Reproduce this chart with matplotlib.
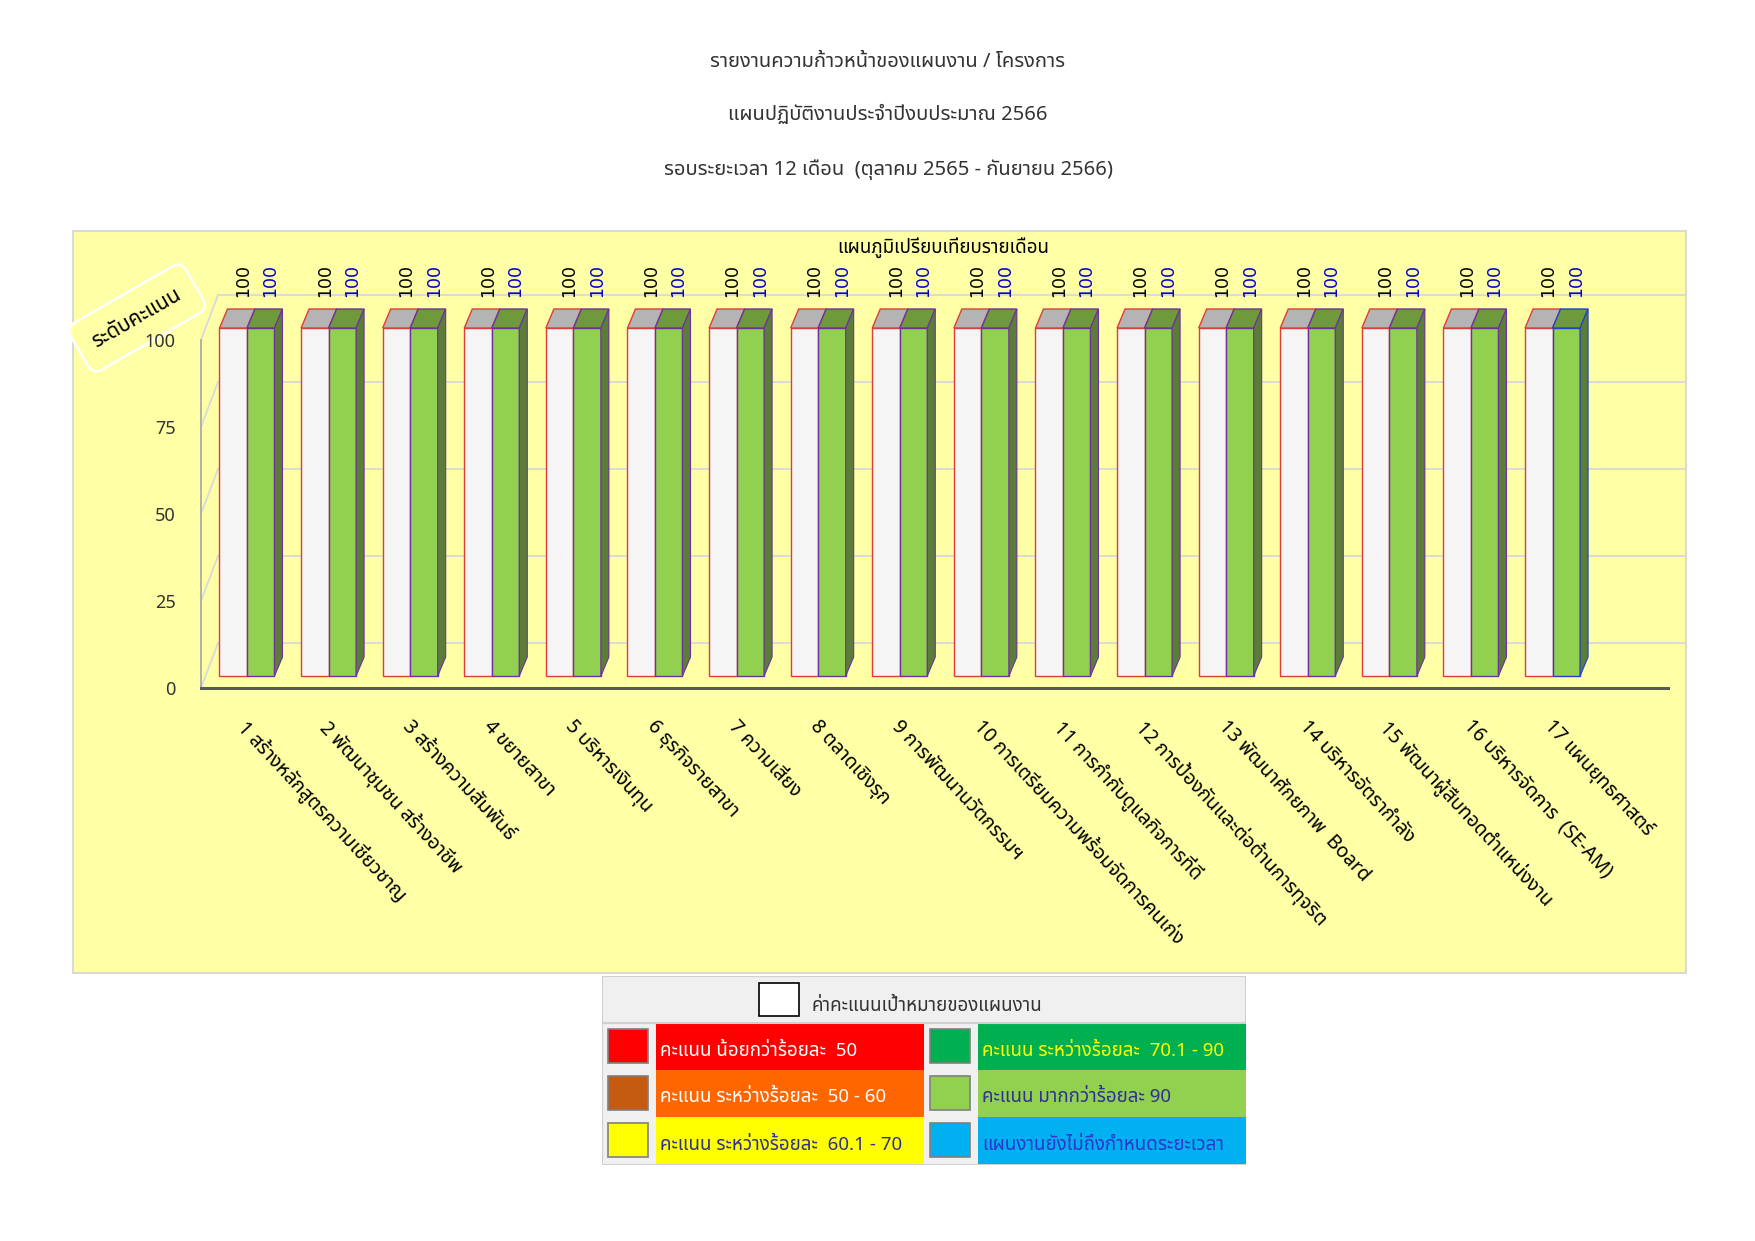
import numpy as np
import matplotlib
matplotlib.use("Agg")
import matplotlib.pyplot as plt
from matplotlib import font_manager
from matplotlib.ft2font import FT2Font
from matplotlib.patches import Polygon, Rectangle

# ---- data ----
categories = ["1 สร้างหลักสูตรความเชี่ยวชาญ", "2 พัฒนาชุมชน สร้างอาชีพ", "3 สร้างความสัมพันธ์",
              "4 ขยายสาขา", "5 บริหารเงินทุน", "6 ธุรกิจรายสาขา", "7 ความเสี่ยง", "8 ตลาดเชิงรุก",
              "9 การพัฒนานวัตกรรมฯ", "10 การเตรียมความพร้อมจัดการคนเก่ง", "11 การกำกับดูแลกิจการที่ดี",
              "12 การป้องกันและต่อต้านการทุจริต", "13 พัฒนาศักยภาพ  Board", "14 บริหารอัตรากำลัง",
              "15 พัฒนาผู้สืบทอดตำแหน่งงาน", "16 บริหารจัดการ  (SE-AM)", "17 แผนยุทธศาสตร์"]
target = [100] * 17
actual = [100] * 17
yticks = [0, 25, 50, 75, 100]

titles = ["รายงานความก้าวหน้าของแผนงาน / โครงการ",
          "แผนปฏิบัติงานประจำปีงบประมาณ 2566",
          "รอบระยะเวลา 12 เดือน  (ตุลาคม 2565 - กันยายน 2566)"]
chart_title = "แผนภูมิเปรียบเทียบรายเดือน"
y_title = "ระดับคะแนน"

legend_header = "ค่าคะแนนเป้าหมายของแผนงาน"
legend_left = [("คะแนน น้อยกว่าร้อยละ  50", "#FF0000", "#FF0000", "white"),
               ("คะแนน ระหว่างร้อยละ  50 - 60", "#C55A11", "#FF6600", "white"),
               ("คะแนน ระหว่างร้อยละ  60.1 - 70", "#FFFF00", "#FFFF00", "#2E3192")]
legend_right = [("คะแนน ระหว่างร้อยละ  70.1 - 90", "#00B050", "#00B050", "#FFFF00"),
                ("คะแนน มากกว่าร้อยละ 90", "#92D050", "#92D050", "#2E3192"),
                ("แผนงานยังไม่ถึงกำหนดระยะเวลา", "#00B0F0", "#00B0F0", "#3333CC")]


def find_thai_font():
    names = []
    for f in font_manager.fontManager.ttflist:
        try:
            if 0x0E01 in FT2Font(f.fname).get_charmap():
                names.append(f.name)
        except Exception:
            pass
    for pref in ["Noto Sans Thai", "Tahoma", "Leelawadee", "Loma", "Garuda", "Sarabun"]:
        if pref in names:
            return pref
    return names[0] if names else "DejaVu Sans"


thai = find_thai_font()
plt.rcParams['font.family'] = [thai, 'DejaVu Sans']

W, H = 1755, 1241
fig = plt.figure(figsize=(W / 100, H / 100), dpi=100)
fig.patch.set_facecolor("white")


def fx(px):
    return px / W


def fy(py):
    return 1 - py / H


for t, py in zip(titles, [62, 115, 170]):
    fig.text(fx(888), fy(py), t, ha="center", va="center", fontsize=14.5, color="#333333")

# chart area (behind the axes)
bg = fig.add_axes([0, 0, 1, 1], zorder=-1)
bg.axis("off")
bg.add_patch(Rectangle((fx(73), fy(973)), fx(1686) - fx(73), fy(231) - fy(973),
                       transform=fig.transFigure, facecolor="#FFFFA6", edgecolor="#D9D9D9", lw=1.5))
fig.text(fx(943), fy(248), chart_title, ha="center", va="center", fontsize=13.5,
         fontweight="bold", color="black")

# y axis title in a rotated rounded box (clipped by the chart area)
yt = bg.text(fx(137), fy(318), y_title, rotation=30, ha="center", va="center", fontsize=15,
             transform=fig.transFigure,
             bbox=dict(boxstyle="round,pad=0.8,rounding_size=0.5", facecolor="#FFFFA6",
                       edgecolor="white", lw=1.8))
clip = Rectangle((fx(73), fy(973)), fx(1686) - fx(73), fy(231) - fy(973),
                 transform=fig.transFigure, facecolor="none", edgecolor="none")
bg.add_patch(clip)
yt.set_clip_path(clip)
yt.get_bbox_patch().set_clip_path(clip)

ax = fig.add_axes([fx(180), fy(700), fx(1685) - fx(180), fy(232) - fy(700)])
ax.set_facecolor("none")
ax.set_xlim(-0.821, 17.623)
ax.set_ylim(-6.897, 127.59)
for s in ax.spines.values():
    s.set_visible(False)

x = np.arange(len(categories))
w = 0.337
ddx, ddy = 0.098, 5.46          # bar depth
fz = -3.45                      # front floor level
wx, wy = 0.209, 12.93           # wall depth
xl, xr = -0.564, 17.41

# walls / gridlines
for t in yticks:
    ax.plot([xl + wx, 17.7], [t + fz + wy] * 2, color="#D9D9D9", lw=1.3, zorder=1)
    ax.plot([xl, xl + wx], [t + fz, t + fz + wy], color="#D9D9D9", lw=1.3, zorder=1)
ax.plot([xl, xl], [fz, 100 + fz], color="#A6A6A6", lw=1.2, zorder=2)
ax.plot([xl, xr], [fz, fz], color="#595959", lw=2.2, zorder=2)

# bars
ax.bar(x - w / 2, target, width=w, color="#F5F5F5", edgecolor="#E03C3C", lw=1, zorder=3)
green_edges = ["#7030A0"] * 16 + ["#2040D0"]
ax.bar(x + w / 2, actual, width=w, color="#92D050", edgecolor=green_edges, lw=1, zorder=4)
for i in range(len(x)):
    l, m, r = x[i] - w, x[i], x[i] + w
    v, a = target[i], actual[i]
    ax.add_patch(Polygon([(l, v), (l + ddx, v + ddy), (m + ddx, v + ddy), (m, v)],
                         facecolor="#B4B4B4", edgecolor="#E03C3C", lw=1, zorder=3))
    ax.add_patch(Polygon([(m, a), (m + ddx, a + ddy), (r + ddx, a + ddy), (r, a)],
                         facecolor="#6E9A3C", edgecolor=green_edges[i], lw=1, zorder=4))
    ax.add_patch(Polygon([(r, 0), (r + ddx, ddy), (r + ddx, a + ddy), (r, a)],
                         facecolor="#5B7D37", edgecolor=green_edges[i], lw=0.8, zorder=4))
    ax.text(x[i] - w / 2 + 0.12, v + 9, str(v), rotation=90, ha="center", va="bottom",
            fontsize=12.5, family="DejaVu Sans", color="black", zorder=5)
    ax.text(x[i] + w / 2 + 0.12, a + 9, str(a), rotation=90, ha="center", va="bottom",
            fontsize=12.5, family="DejaVu Sans", color="#0000CC", zorder=5)

ax.set_yticks([t + fz for t in yticks], labels=[str(t) for t in yticks])
ax.set_xticks(x + 0.03, labels=categories)
ax.tick_params(axis="y", length=0, pad=3, labelsize=13, labelcolor="#333333")
ax.tick_params(axis="x", length=0, pad=12, labelsize=14)
for lab in ax.get_xticklabels():
    lab.set_rotation(-47)
    lab.set_ha("left")
    lab.set_va("top")
    lab.set_rotation_mode("anchor")

# ---- legend table ----
lax = fig.add_axes([fx(602), fy(1165), fx(1246) - fx(602), fy(976) - fy(1165)])
lax.set_xlim(602, 1246)
lax.set_ylim(1165, 976)
lax.axis("off")
lax.add_patch(Rectangle((602, 976), 644, 189, facecolor="#F0F0F0", edgecolor="#D0D0D0", lw=1.5))
lax.add_patch(Rectangle((759, 983), 40, 33, facecolor="white", edgecolor="black", lw=1.2))
lax.text(812, 1006, legend_header, ha="left", va="center", fontsize=13.5, color="#333333")
lax.plot([602, 1246], [1023, 1023], color="#D0D0D0", lw=1.5)
row_h = 47
for j, rows in enumerate([legend_left, legend_right]):
    x0 = 602 if j == 0 else 924
    for k, (lab, sq, cell, tc) in enumerate(rows):
        y0 = 1023 + k * row_h
        lax.add_patch(Rectangle((x0 + 6, y0 + 6), 40, 34, facecolor=sq, edgecolor="#808080", lw=1.2))
        cx = x0 + 54
        lax.add_patch(Rectangle((cx, y0), 322 - 54 if j == 0 else 1246 - cx, row_h,
                                facecolor=cell, edgecolor="none"))
        lax.text(cx + 4, y0 + row_h / 2 + 4, lab, ha="left", va="center", fontsize=13.5, color=tc)

fig.savefig("out.png", dpi=100)
